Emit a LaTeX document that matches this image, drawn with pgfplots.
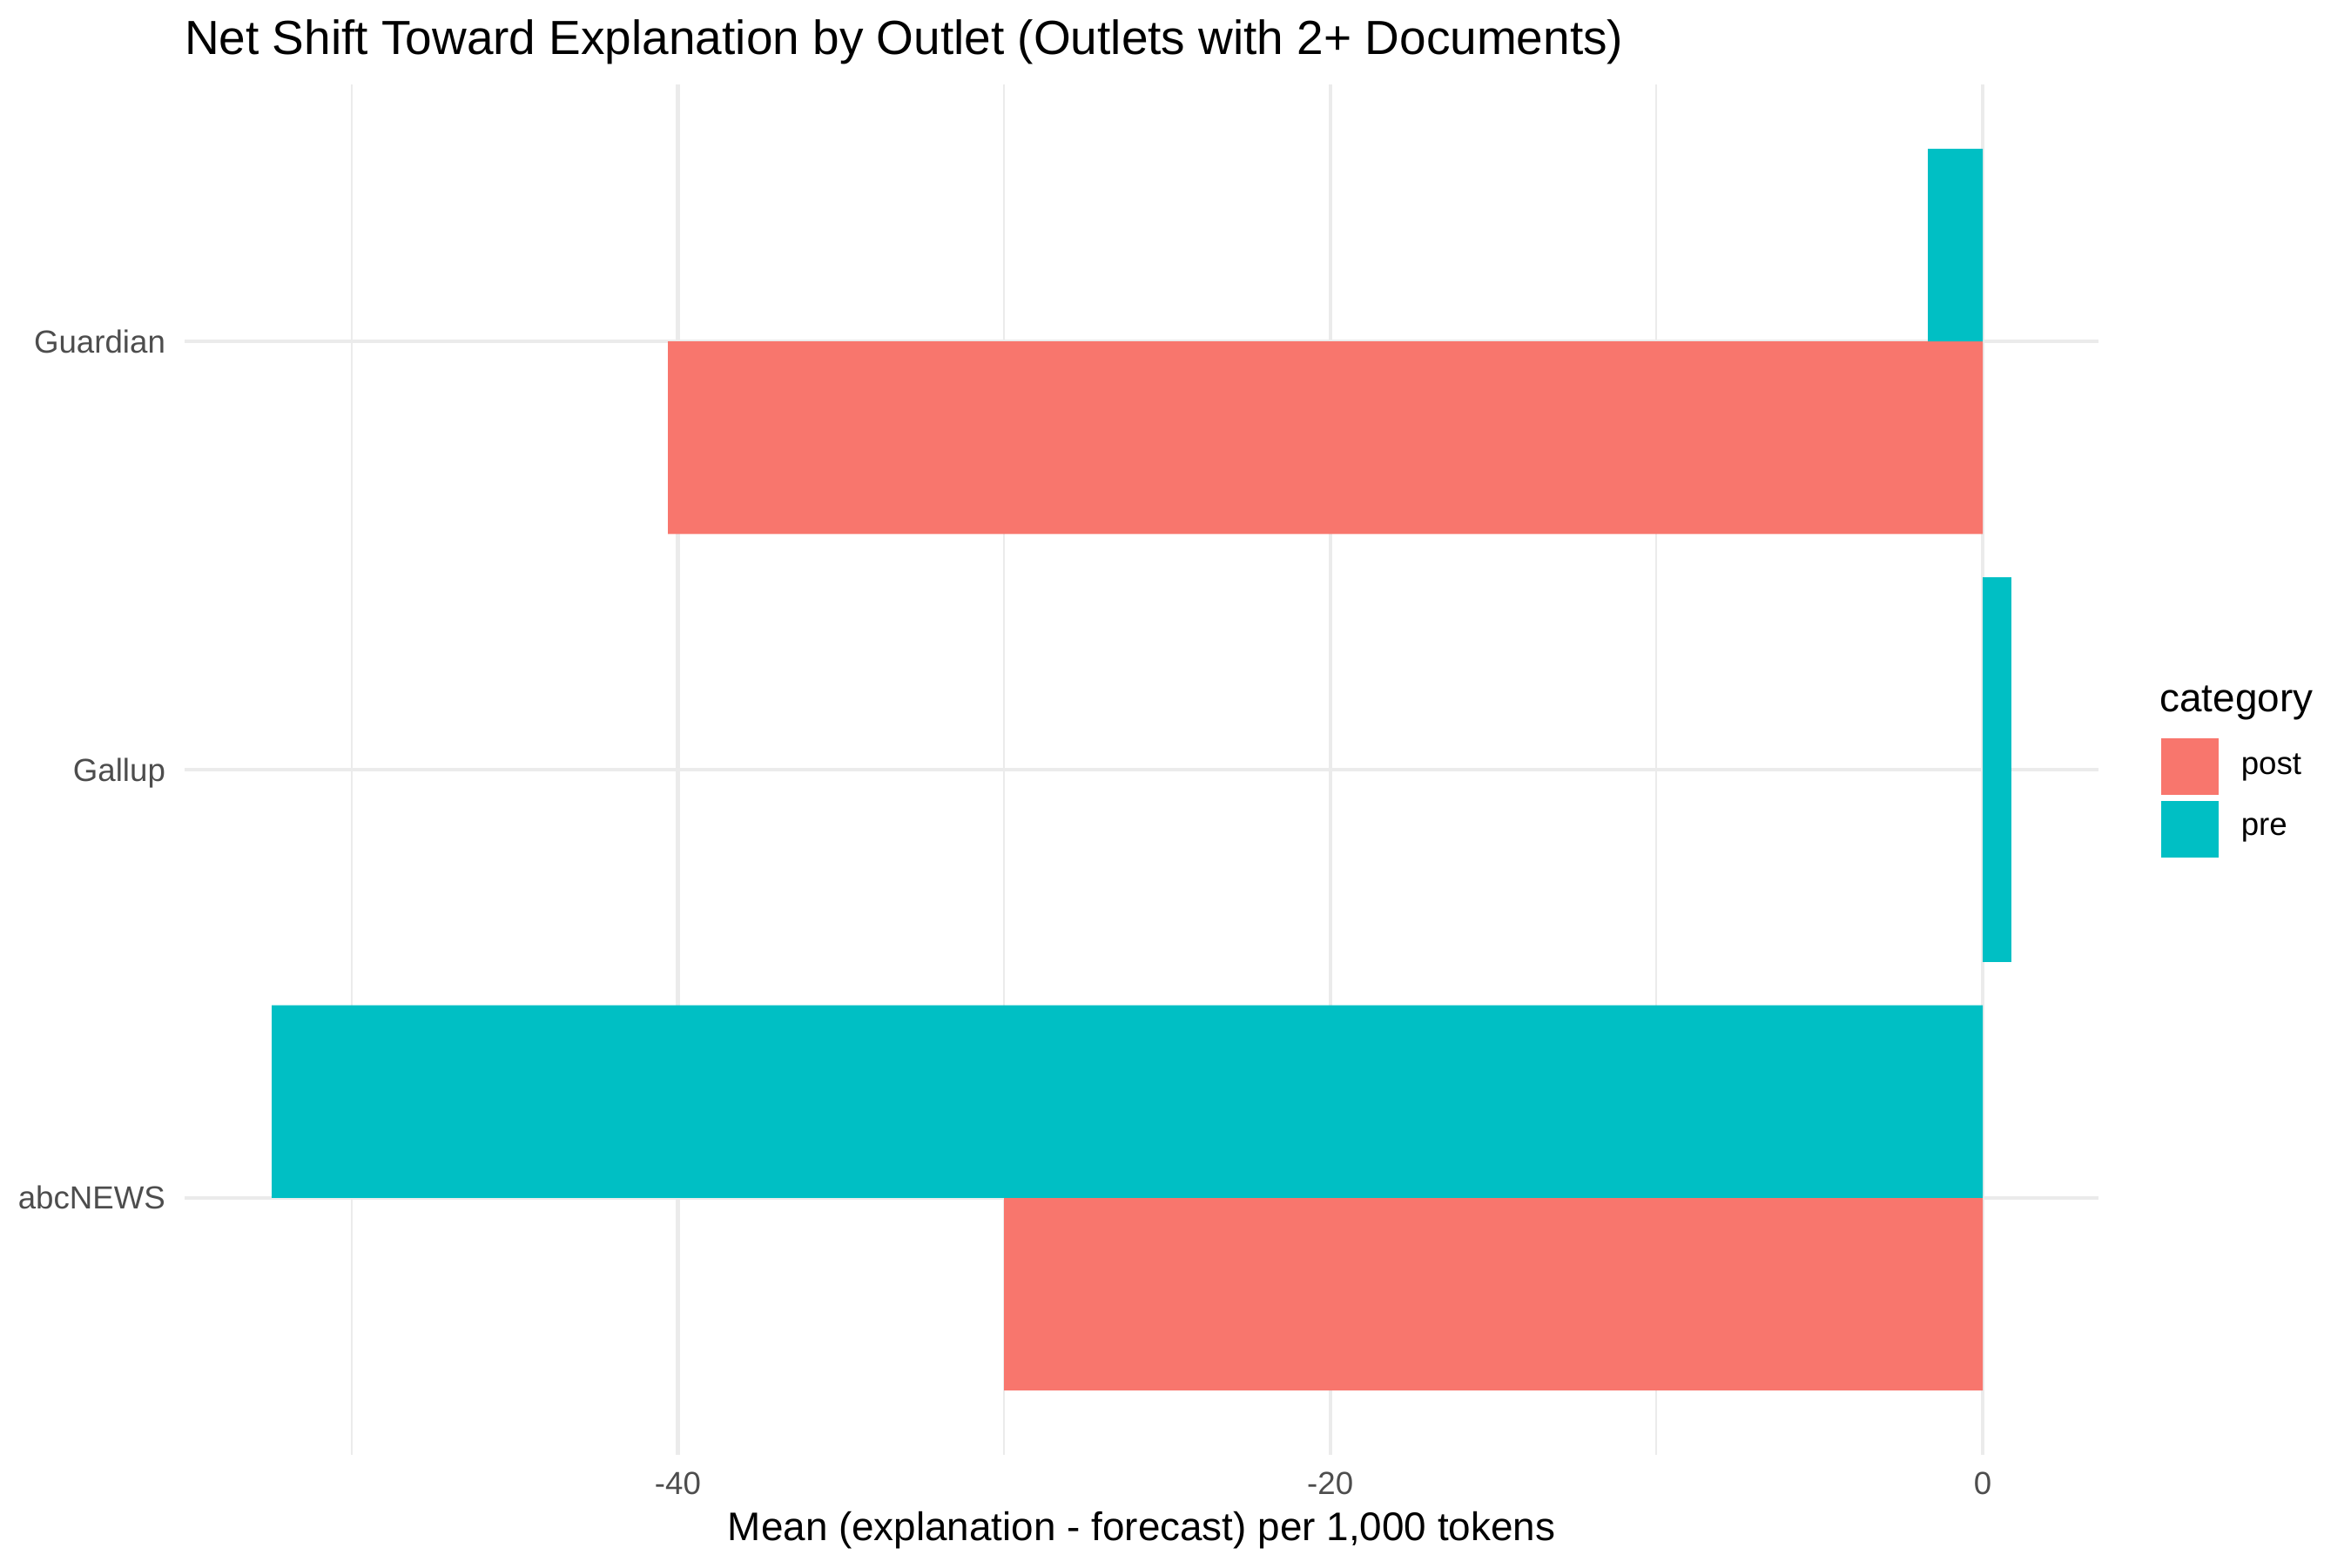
\documentclass[border=0pt]{standalone}
\usepackage{pgfplots}
\pgfplotsset{compat=1.18}
\usepackage{fontspec}
\setmainfont{Liberation Sans}
\definecolor{postcol}{HTML}{F8766D}
\definecolor{precol}{HTML}{00BFC4}
\definecolor{gridcol}{HTML}{EBEBEB}
\definecolor{tickcol}{HTML}{4D4D4D}
\begin{document}
\begin{tikzpicture}
\useasboundingbox (0,0) rectangle (648bp,432bp);
\begin{axis}[
  at={(50.88bp,30.96bp)}, anchor=south west,
  scale only axis, width=527.52bp, height=377.76bp,
  xmin=-55.12, xmax=3.55, ymin=0.4, ymax=3.6,
  xbar, bar shift=0pt,
  axis line style={draw=none},
  major tick length=0pt, minor tick length=0pt,
  xtick={-40,-20,0}, xticklabels={-40,-20,0},
  minor xtick={-50,-30,-10},
  ytick={1,2,3}, yticklabels={abcNEWS,Gallup,Guardian},
  xmajorgrids, ymajorgrids, xminorgrids,
  major grid style={draw=gridcol, line width=1.07pt},
  minor grid style={draw=gridcol, line width=0.53pt},
  xticklabel style={font=\fontsize{8.8bp}{10bp}\selectfont, text=tickcol, anchor=base, inner sep=0pt, yshift=-11.0bp},
  yticklabel style={font=\fontsize{8.8bp}{10bp}\selectfont, text=tickcol, anchor=base east, inner sep=0pt, xshift=-5.1bp, yshift=-3.15bp},
  legend cell align=left,
  legend style={at={(1.03276,0.52287)}, anchor=north west, draw=none, fill=none,
    inner sep=0pt, outer sep=0pt, row sep=1.68bp, column sep=0pt,
    font=\fontsize{8.8bp}{10bp}\selectfont,
    nodes={inner sep=0pt, outer sep=0pt}},
  legend image code/.code={\fill[#1] (0bp,-7.8bp) rectangle (15.84bp,7.8bp);},
]
\addplot[fill=postcol, draw=none, bar width=0.45] coordinates {(-30.0,0.775) (-40.3,2.775)};
\addlegendentry{\hspace{6.2bp}post}
\addplot[fill=precol, draw=none, bar width=0.45] coordinates {(-52.45,1.225) (-1.68,3.225)};
\addlegendentry{\hspace{6.2bp}pre}
\addplot[fill=precol, draw=none, bar width=0.9, forget plot] coordinates {(0.88,2)};
\end{axis}
\node[anchor=base west, inner sep=0pt, font=\fontsize{13.2bp}{15bp}\selectfont] at (50.7bp,416.88bp) {Net Shift Toward Explanation by Outlet (Outlets with 2+ Documents)};
\node[anchor=base, inner sep=0pt, font=\fontsize{11bp}{13bp}\selectfont] at (314.64bp,7.3bp) {Mean (explanation - forecast) per 1,000 tokens};
\node[anchor=base west, inner sep=0pt, font=\fontsize{11bp}{13bp}\selectfont] at (595.1bp,235.68bp) {category};
\end{tikzpicture}
\end{document}
